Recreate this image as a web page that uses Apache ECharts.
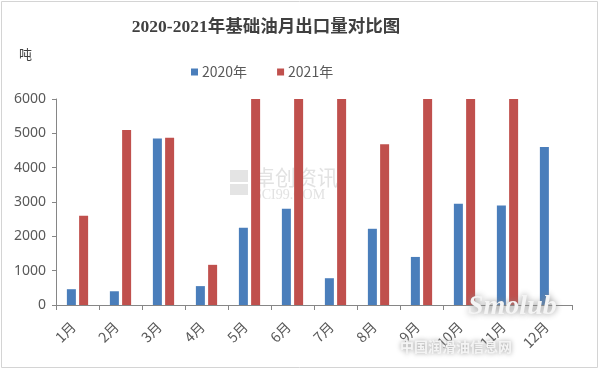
<!DOCTYPE html>
<html><head><meta charset="utf-8">
<script src="https://cdn.jsdelivr.net/npm/echarts@6/dist/echarts.min.js"></script>
<style>html,body{margin:0;padding:0;background:#fff}#c{width:600px;height:370px}</style>
</head><body><div id="c"></div>
<script>
const titleText = '2020-2021年基础油月出口量对比图';
const unitText = '吨';
const categories = ['1月','2月','3月','4月','5月','6月','7月','8月','9月','10月','11月','12月'];
const seriesNames = ['2020年','2021年'];
const values2020 = [460, 400, 4850, 550, 2250, 2800, 780, 2220, 1400, 2950, 2900, 4600];
const values2021 = [2600, 5100, 4870, 1170, 6000, 6000, 6000, 4680, 6000, 6000, 6000, null];
const yTicks = {min: 0, max: 6000, interval: 1000};

const chart = echarts.init(document.getElementById('c'));
chart.setOption({
  animation: false,
  backgroundColor: '#fff',
  title: {
    text: titleText, left: 261, top: 14, textAlign: 'center',
    textStyle: {fontFamily: "'Liberation Serif','Noto Sans CJK SC'", fontSize: 17.5, fontWeight: 'bold', color: '#404040'}
  },
  legend: {
    data: seriesNames, left: 186, top: 60, itemWidth: 7, itemHeight: 7, itemGap: 30,
    icon: 'rect',
    textStyle: {fontFamily: "'Noto Sans CJK SC'", fontSize: 14, color: '#595959', padding: [0,0,0,-1]}
  },
  graphic: [
    {type: 'rect', shape: {x: 1.5, y: 1.5, width: 596, height: 366}, style: {fill: 'none', stroke: '#d4d4d4', lineWidth: 1}, silent: true, z: -10},
    {type: 'text', left: 19, top: 48, style: {text: unitText, fontFamily: "'Noto Sans CJK SC'", fontSize: 13, fill: '#404040'}},
    {type: 'rect', shape: {x: 230, y: 170, width: 18, height: 12}, style: {fill: '#e4e4e4'}, z: -5},
    {type: 'rect', shape: {x: 230, y: 184, width: 18, height: 11}, style: {fill: '#e4e4e4'}, z: -5},
    {type: 'text', left: 254, top: 167, z: -5, style: {text: '卓创资讯', fontFamily: "'Noto Sans CJK SC'", fontSize: 21, fill: '#e2e2e2'}},
    {type: 'text', left: 254, top: 188, z: -5, style: {text: 'SCI99.COM', fontFamily: "'Liberation Serif'", fontSize: 14, fill: '#e2e2e2'}},
    {type: 'text', left: 468, top: 293, z: 20, style: {text: 'Smolub', fontFamily: "'Liberation Serif'", fontStyle: 'italic', fontWeight: 'bold', fontSize: 28, fill: '#f4f4f4', textShadowColor: '#8a8a8a', textShadowBlur: 6}},
    {type: 'text', left: 400, top: 340, z: 20, style: {text: '中国润滑油信息网', fontFamily: "'Noto Sans CJK SC'", fontSize: 14, fontWeight: 'bold', fill: '#f4f4f4', textShadowColor: '#9a9a9a', textShadowBlur: 5}}
  ],
  grid: {left: 56, right: 28, top: 99, bottom: 65},
  xAxis: {
    type: 'category', data: categories,
    axisLine: {lineStyle: {color: '#868686'}},
    axisTick: {show: true, length: 5, lineStyle: {color: '#868686'}},
    axisLabel: {rotate: 45, margin: 15, padding: [0, 6, 0, 0], fontFamily: "'Noto Sans CJK SC'", fontSize: 14, color: '#595959', interval: 0}
  },
  yAxis: {
    type: 'value', min: yTicks.min, max: yTicks.max, interval: yTicks.interval,
    splitLine: {show: false},
    axisLine: {show: true, lineStyle: {color: '#868686'}},
    axisTick: {show: true, length: 4, lineStyle: {color: '#868686'}},
    axisLabel: {margin: 10, fontFamily: "'Noto Sans','Liberation Sans'", fontSize: 14, color: '#595959', formatter: v => String(v)}
  },
  series: [
    {name: seriesNames[0], type: 'bar', data: values2020, barWidth: 9, barGap: '36%', itemStyle: {color: '#4A7EBB'}},
    {name: seriesNames[1], type: 'bar', data: values2021, barWidth: 9, barGap: '36%', itemStyle: {color: '#C0504D'}}
  ]
});
</script></body></html>
